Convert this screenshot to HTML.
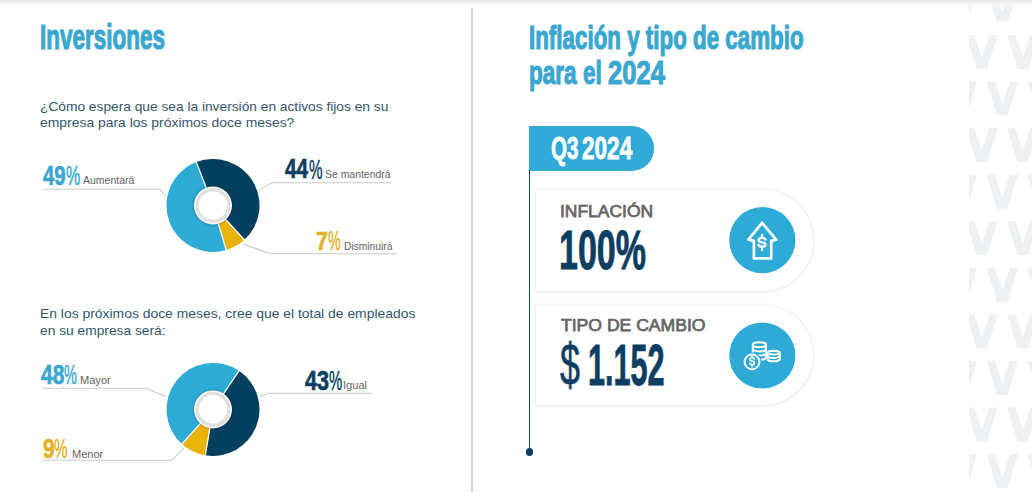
<!DOCTYPE html>
<html><head><meta charset="utf-8"><style>
html,body{margin:0;padding:0;}
body{width:1032px;height:492px;position:relative;overflow:hidden;background:#fff;font-family:"Liberation Sans",sans-serif;}
.t{position:absolute;white-space:nowrap;line-height:1;transform-origin:0 0;}
.top{position:absolute;left:0;top:0;width:1032px;height:9px;background:linear-gradient(#e6e6e6,#f6f6f6 45%,rgba(255,255,255,0));z-index:5}
.sep{position:absolute;left:471.3px;top:8px;width:1.6px;height:484px;background:#d3d3d3}
.pill{position:absolute;left:529.3px;top:126px;width:125.2px;height:44.6px;background:#31aad7;border-radius:0 22.3px 22.3px 0}
.tl{position:absolute;left:528.6px;top:170px;width:1.6px;height:282px;background:#173f5c}
.dot{position:absolute;left:525.7px;top:448.4px;width:7.2px;height:7.2px;border-radius:50%;background:#0d3f62}
.card{position:absolute;left:535.6px;width:277.4px;height:100.2px;background:#fff;border-radius:0 50.1px 50.1px 0;box-shadow:0 0.3px 2.6px 0.6px rgba(0,0,0,0.11)}
svg{position:absolute;left:0;top:0}
</style></head><body>
<div class="sep"></div>
<svg width="1032" height="492" viewBox="0 0 1032 492">
<defs><radialGradient id="rs"><stop offset="0.8" stop-color="#000" stop-opacity="0.18"/><stop offset="1" stop-color="#000" stop-opacity="0"/></radialGradient><clipPath id="vc"><rect x="969" y="0" width="63" height="492"/></clipPath></defs>
<g clip-path="url(#vc)"><path d="M945.55,-7.50 L953.75,-7.50 L961.30,11.26 L968.85,-7.50 L977.05,-7.50 L966.55,21.50 L956.05,21.50 Z" fill="#edf1f3"/><path d="M986.55,-7.50 L994.75,-7.50 L1002.30,11.26 L1009.85,-7.50 L1018.05,-7.50 L1007.55,21.50 L997.05,21.50 Z" fill="#edf1f3"/><path d="M1027.55,-7.50 L1035.75,-7.50 L1043.30,11.26 L1050.85,-7.50 L1059.05,-7.50 L1048.55,21.50 L1038.05,21.50 Z" fill="#edf1f3"/><path d="M1068.55,-7.50 L1076.75,-7.50 L1084.30,11.26 L1091.85,-7.50 L1100.05,-7.50 L1089.55,21.50 L1079.05,21.50 Z" fill="#edf1f3"/><path d="M925.05,35.00 L933.25,35.00 L940.80,57.00 L948.35,35.00 L956.55,35.00 L946.05,69.00 L935.55,69.00 Z" fill="#edf1f3"/><path d="M966.05,35.00 L974.25,35.00 L981.80,57.00 L989.35,35.00 L997.55,35.00 L987.05,69.00 L976.55,69.00 Z" fill="#edf1f3"/><path d="M1007.05,35.00 L1015.25,35.00 L1022.80,57.00 L1030.35,35.00 L1038.55,35.00 L1028.05,69.00 L1017.55,69.00 Z" fill="#edf1f3"/><path d="M1048.05,35.00 L1056.25,35.00 L1063.80,57.00 L1071.35,35.00 L1079.55,35.00 L1069.05,69.00 L1058.55,69.00 Z" fill="#edf1f3"/><path d="M945.55,81.57 L953.75,81.57 L961.30,103.57 L968.85,81.57 L977.05,81.57 L966.55,115.57 L956.05,115.57 Z" fill="#edf1f3"/><path d="M986.55,81.57 L994.75,81.57 L1002.30,103.57 L1009.85,81.57 L1018.05,81.57 L1007.55,115.57 L997.05,115.57 Z" fill="#edf1f3"/><path d="M1027.55,81.57 L1035.75,81.57 L1043.30,103.57 L1050.85,81.57 L1059.05,81.57 L1048.55,115.57 L1038.05,115.57 Z" fill="#edf1f3"/><path d="M1068.55,81.57 L1076.75,81.57 L1084.30,103.57 L1091.85,81.57 L1100.05,81.57 L1089.55,115.57 L1079.05,115.57 Z" fill="#edf1f3"/><path d="M925.05,128.14 L933.25,128.14 L940.80,150.14 L948.35,128.14 L956.55,128.14 L946.05,162.14 L935.55,162.14 Z" fill="#edf1f3"/><path d="M966.05,128.14 L974.25,128.14 L981.80,150.14 L989.35,128.14 L997.55,128.14 L987.05,162.14 L976.55,162.14 Z" fill="#edf1f3"/><path d="M1007.05,128.14 L1015.25,128.14 L1022.80,150.14 L1030.35,128.14 L1038.55,128.14 L1028.05,162.14 L1017.55,162.14 Z" fill="#edf1f3"/><path d="M1048.05,128.14 L1056.25,128.14 L1063.80,150.14 L1071.35,128.14 L1079.55,128.14 L1069.05,162.14 L1058.55,162.14 Z" fill="#edf1f3"/><path d="M945.55,174.71 L953.75,174.71 L961.30,196.71 L968.85,174.71 L977.05,174.71 L966.55,208.71 L956.05,208.71 Z" fill="#edf1f3"/><path d="M986.55,174.71 L994.75,174.71 L1002.30,196.71 L1009.85,174.71 L1018.05,174.71 L1007.55,208.71 L997.05,208.71 Z" fill="#edf1f3"/><path d="M1027.55,174.71 L1035.75,174.71 L1043.30,196.71 L1050.85,174.71 L1059.05,174.71 L1048.55,208.71 L1038.05,208.71 Z" fill="#edf1f3"/><path d="M1068.55,174.71 L1076.75,174.71 L1084.30,196.71 L1091.85,174.71 L1100.05,174.71 L1089.55,208.71 L1079.05,208.71 Z" fill="#edf1f3"/><path d="M925.05,221.28 L933.25,221.28 L940.80,243.28 L948.35,221.28 L956.55,221.28 L946.05,255.28 L935.55,255.28 Z" fill="#edf1f3"/><path d="M966.05,221.28 L974.25,221.28 L981.80,243.28 L989.35,221.28 L997.55,221.28 L987.05,255.28 L976.55,255.28 Z" fill="#edf1f3"/><path d="M1007.05,221.28 L1015.25,221.28 L1022.80,243.28 L1030.35,221.28 L1038.55,221.28 L1028.05,255.28 L1017.55,255.28 Z" fill="#edf1f3"/><path d="M1048.05,221.28 L1056.25,221.28 L1063.80,243.28 L1071.35,221.28 L1079.55,221.28 L1069.05,255.28 L1058.55,255.28 Z" fill="#edf1f3"/><path d="M945.55,267.85 L953.75,267.85 L961.30,289.85 L968.85,267.85 L977.05,267.85 L966.55,301.85 L956.05,301.85 Z" fill="#edf1f3"/><path d="M986.55,267.85 L994.75,267.85 L1002.30,289.85 L1009.85,267.85 L1018.05,267.85 L1007.55,301.85 L997.05,301.85 Z" fill="#edf1f3"/><path d="M1027.55,267.85 L1035.75,267.85 L1043.30,289.85 L1050.85,267.85 L1059.05,267.85 L1048.55,301.85 L1038.05,301.85 Z" fill="#edf1f3"/><path d="M1068.55,267.85 L1076.75,267.85 L1084.30,289.85 L1091.85,267.85 L1100.05,267.85 L1089.55,301.85 L1079.05,301.85 Z" fill="#edf1f3"/><path d="M925.05,314.42 L933.25,314.42 L940.80,336.42 L948.35,314.42 L956.55,314.42 L946.05,348.42 L935.55,348.42 Z" fill="#edf1f3"/><path d="M966.05,314.42 L974.25,314.42 L981.80,336.42 L989.35,314.42 L997.55,314.42 L987.05,348.42 L976.55,348.42 Z" fill="#edf1f3"/><path d="M1007.05,314.42 L1015.25,314.42 L1022.80,336.42 L1030.35,314.42 L1038.55,314.42 L1028.05,348.42 L1017.55,348.42 Z" fill="#edf1f3"/><path d="M1048.05,314.42 L1056.25,314.42 L1063.80,336.42 L1071.35,314.42 L1079.55,314.42 L1069.05,348.42 L1058.55,348.42 Z" fill="#edf1f3"/><path d="M945.55,360.99 L953.75,360.99 L961.30,382.99 L968.85,360.99 L977.05,360.99 L966.55,394.99 L956.05,394.99 Z" fill="#edf1f3"/><path d="M986.55,360.99 L994.75,360.99 L1002.30,382.99 L1009.85,360.99 L1018.05,360.99 L1007.55,394.99 L997.05,394.99 Z" fill="#edf1f3"/><path d="M1027.55,360.99 L1035.75,360.99 L1043.30,382.99 L1050.85,360.99 L1059.05,360.99 L1048.55,394.99 L1038.05,394.99 Z" fill="#edf1f3"/><path d="M1068.55,360.99 L1076.75,360.99 L1084.30,382.99 L1091.85,360.99 L1100.05,360.99 L1089.55,394.99 L1079.05,394.99 Z" fill="#edf1f3"/><path d="M925.05,407.56 L933.25,407.56 L940.80,429.56 L948.35,407.56 L956.55,407.56 L946.05,441.56 L935.55,441.56 Z" fill="#edf1f3"/><path d="M966.05,407.56 L974.25,407.56 L981.80,429.56 L989.35,407.56 L997.55,407.56 L987.05,441.56 L976.55,441.56 Z" fill="#edf1f3"/><path d="M1007.05,407.56 L1015.25,407.56 L1022.80,429.56 L1030.35,407.56 L1038.55,407.56 L1028.05,441.56 L1017.55,441.56 Z" fill="#edf1f3"/><path d="M1048.05,407.56 L1056.25,407.56 L1063.80,429.56 L1071.35,407.56 L1079.55,407.56 L1069.05,441.56 L1058.55,441.56 Z" fill="#edf1f3"/><path d="M945.55,454.13 L953.75,454.13 L961.30,476.13 L968.85,454.13 L977.05,454.13 L966.55,488.13 L956.05,488.13 Z" fill="#edf1f3"/><path d="M986.55,454.13 L994.75,454.13 L1002.30,476.13 L1009.85,454.13 L1018.05,454.13 L1007.55,488.13 L997.05,488.13 Z" fill="#edf1f3"/><path d="M1027.55,454.13 L1035.75,454.13 L1043.30,476.13 L1050.85,454.13 L1059.05,454.13 L1048.55,488.13 L1038.05,488.13 Z" fill="#edf1f3"/><path d="M1068.55,454.13 L1076.75,454.13 L1084.30,476.13 L1091.85,454.13 L1100.05,454.13 L1089.55,488.13 L1079.05,488.13 Z" fill="#edf1f3"/><path d="M925.05,500.70 L933.25,500.70 L940.80,522.70 L948.35,500.70 L956.55,500.70 L946.05,534.70 L935.55,534.70 Z" fill="#edf1f3"/><path d="M966.05,500.70 L974.25,500.70 L981.80,522.70 L989.35,500.70 L997.55,500.70 L987.05,534.70 L976.55,534.70 Z" fill="#edf1f3"/><path d="M1007.05,500.70 L1015.25,500.70 L1022.80,522.70 L1030.35,500.70 L1038.55,500.70 L1028.05,534.70 L1017.55,534.70 Z" fill="#edf1f3"/><path d="M1048.05,500.70 L1056.25,500.70 L1063.80,522.70 L1071.35,500.70 L1079.55,500.70 L1069.05,534.70 L1058.55,534.70 Z" fill="#edf1f3"/></g>
<path d="M213,205.5 L196.34,162.09 A46.5,46.5 0 0 1 244.36,239.84 Z" fill="#03405f"/><path d="M213,205.5 L244.36,239.84 A46.5,46.5 0 0 1 226.21,250.09 Z" fill="#e9b30a"/><path d="M213,205.5 L226.21,250.09 A46.5,46.5 0 0 1 196.34,162.09 Z" fill="#2eabd5"/><line x1="213" y1="205.5" x2="196.16" y2="161.62" stroke="#fff" stroke-width="1.3"/><line x1="213" y1="205.5" x2="244.69" y2="240.21" stroke="#fff" stroke-width="1.3"/><line x1="213" y1="205.5" x2="226.35" y2="250.56" stroke="#fff" stroke-width="1.3"/><circle cx="213" cy="205.5" r="22" fill="url(#rs)"/><circle cx="213" cy="205.5" r="19" fill="#f7f7f7"/><circle cx="213" cy="205.5" r="15.7" fill="none" stroke="#e0e0e0" stroke-width="3.2"/><circle cx="213" cy="205.5" r="14.1" fill="#fff"/><path d="M213,409.4 L239.00,370.85 A46.5,46.5 0 0 1 205.33,455.26 Z" fill="#03405f"/><path d="M213,409.4 L205.33,455.26 A46.5,46.5 0 0 1 181.89,443.96 Z" fill="#e9b30a"/><path d="M213,409.4 L181.89,443.96 A46.5,46.5 0 0 1 239.00,370.85 Z" fill="#2eabd5"/><line x1="213" y1="409.4" x2="239.28" y2="370.44" stroke="#fff" stroke-width="1.3"/><line x1="213" y1="409.4" x2="205.24" y2="455.76" stroke="#fff" stroke-width="1.3"/><line x1="213" y1="409.4" x2="181.55" y2="444.33" stroke="#fff" stroke-width="1.3"/><circle cx="213" cy="409.4" r="22" fill="url(#rs)"/><circle cx="213" cy="409.4" r="19" fill="#f7f7f7"/><circle cx="213" cy="409.4" r="15.7" fill="none" stroke="#e0e0e0" stroke-width="3.2"/><circle cx="213" cy="409.4" r="14.1" fill="#fff"/><polyline points="43.8,189.3 159.8,189.3 166,196.5" fill="none" stroke="#c9c9c9" stroke-width="1.1"/><polyline points="391.7,182.7 271.8,182.7 259,190.4" fill="none" stroke="#c9c9c9" stroke-width="1.1"/><polyline points="396.8,253.7 270.6,253.7 243,244" fill="none" stroke="#c9c9c9" stroke-width="1.1"/><polyline points="41.8,388.2 145.6,388.2 166,396.4" fill="none" stroke="#c9c9c9" stroke-width="1.1"/><polyline points="372.1,393.2 268.3,393.2 259.5,396.6" fill="none" stroke="#c9c9c9" stroke-width="1.1"/><polyline points="43,460.3 171.7,460.3 183.8,447.9" fill="none" stroke="#c9c9c9" stroke-width="1.1"/>
</svg>
<div class="pill"></div>
<div class="tl"></div>
<div class="dot"></div>
<div class="card" style="top:190.4px"></div>
<div class="card" style="top:305.2px"></div>
<svg width="1032" height="492" viewBox="0 0 1032 492">
<circle cx="762.35" cy="240.1" r="33.1" fill="#2eaad7"/>
<circle cx="762.3" cy="355.5" r="33.1" fill="#2eaad7"/>
<g fill="none" stroke="#fff" stroke-width="2.7" stroke-linejoin="round" stroke-linecap="round">
<path d="M762.1,222.8 L776.2,239.6 L771.2,240.9 L771.2,258.4 L753.9,258.4 L753.9,240.9 L748.4,239.6 Z"/>
<path d="M765.5,239.7 C765.1,238.5 763.7,237.9 762,237.9 C760.1,237.9 758.6,238.9 758.6,240.2 C758.6,241.6 760.1,242.1 762,242.3 C764,242.5 765.5,243.2 765.5,244.5 C765.5,245.9 764,246.7 762,246.7 C760.2,246.7 758.8,246 758.5,244.9" stroke-width="2.3"/>
<line x1="762" y1="235" x2="762" y2="237.6" stroke-width="2.3"/><line x1="762" y1="247" x2="762" y2="250" stroke-width="2.3"/>
</g>
<g fill="none" stroke="#fff" stroke-width="2" stroke-linejoin="round" stroke-linecap="round"><ellipse cx="773.7" cy="352.6" rx="6.0" ry="1.9"/><path d="M767.7,352.6 L767.7,359.40 M779.7,352.6 L779.7,359.40"/><path d="M767.7,356.00 A6.0,1.9 0 0 0 779.7,356.00"/><path d="M767.7,359.40 A6.0,1.9 0 0 0 779.7,359.40"/><ellipse cx="759.4" cy="344.7" rx="6.6" ry="2.5"/><path d="M752.8,344.7 L752.8,357.30 M766.0,344.7 L766.0,357.30"/><path d="M752.8,348.90 A6.6,2.5 0 0 0 766.0,348.90"/><path d="M752.8,353.10 A6.6,2.5 0 0 0 766.0,353.10"/><path d="M752.8,357.30 A6.6,2.5 0 0 0 766.0,357.30"/><circle cx="752" cy="361.9" r="9.6" fill="#2eaad7" stroke="none"/><circle cx="752" cy="361.9" r="7.4"/><path d="M754.4,358.9 C754,357.9 753.2,357.7 752.1,357.7 C750.9,357.7 749.9,358.3 749.9,359.4 C749.9,360.6 751,360.9 752.1,361.1 C753.4,361.3 754.5,361.8 754.5,363 C754.5,364.2 753.4,364.7 752.1,364.7 C750.9,364.7 750,364.2 749.8,363.4" stroke-width="1.6"/><line x1="752.1" y1="355.9" x2="752.1" y2="357.5" stroke-width="1.6"/><line x1="752.1" y1="364.9" x2="752.1" y2="366.6" stroke-width="1.6"/></g>
</svg>
<div class="t" style="left:39.78px;top:19.47px;font-size:35.22px;font-weight:bold;-webkit-text-stroke:1.2px #3aa7d1;color:#3aa7d1;transform:scaleX(0.6391)">Inversiones</div><div class="t" style="left:39.51px;top:100.25px;font-size:13.00px;font-weight:normal;color:#34566b;transform:scaleX(1.0570)">¿Cómo espera que sea la inversión en activos fijos en su</div><div class="t" style="left:39.77px;top:116.15px;font-size:13.00px;font-weight:normal;color:#34566b;transform:scaleX(1.0699)">empresa para los próximos doce meses?</div><div class="t" style="left:43.20px;top:161.99px;font-size:27.25px;font-weight:bold;-webkit-text-stroke:0.7px #3aa7d1;color:#3aa7d1;transform:scaleX(0.7462)">49</div><div class="t" style="left:66.26px;top:161.84px;font-size:27.54px;font-weight:normal;-webkit-text-stroke:0.5px #3aa7d1;color:#3aa7d1;transform:scaleX(0.5826)">%</div><div class="t" style="left:83.20px;top:176.46px;font-size:10.40px;font-weight:normal;color:#636363;transform:scaleX(1.0098)">Aumentará</div><div class="t" style="left:285.20px;top:155.96px;font-size:26.81px;font-weight:bold;-webkit-text-stroke:0.7px #0c3e62;color:#0c3e62;transform:scaleX(0.7733)">44</div><div class="t" style="left:308.88px;top:155.81px;font-size:27.10px;font-weight:normal;-webkit-text-stroke:0.5px #0c3e62;color:#0c3e62;transform:scaleX(0.5626)">%</div><div class="t" style="left:324.80px;top:170.16px;font-size:10.40px;font-weight:normal;color:#636363;transform:scaleX(1.0039)">Se mantendrá</div><div class="t" style="left:316.39px;top:228.08px;font-size:26.67px;font-weight:bold;-webkit-text-stroke:0.7px #e2b226;color:#e2b226;transform:scaleX(0.8075)">7</div><div class="t" style="left:327.90px;top:227.94px;font-size:26.96px;font-weight:normal;-webkit-text-stroke:0.5px #e2b226;color:#e2b226;transform:scaleX(0.5289)">%</div><div class="t" style="left:344.16px;top:241.86px;font-size:10.40px;font-weight:normal;color:#636363;transform:scaleX(0.9856)">Disminuirá</div><div class="t" style="left:39.73px;top:307.40px;font-size:13.00px;font-weight:normal;color:#34566b;transform:scaleX(1.0688)">En los próximos doce meses, cree que el total de empleados</div><div class="t" style="left:40.27px;top:323.95px;font-size:13.00px;font-weight:normal;color:#34566b;transform:scaleX(1.0595)">en su empresa será:</div><div class="t" style="left:40.60px;top:360.87px;font-size:27.39px;font-weight:bold;-webkit-text-stroke:0.7px #3aa7d1;color:#3aa7d1;transform:scaleX(0.7700)">48</div><div class="t" style="left:64.31px;top:360.72px;font-size:27.68px;font-weight:normal;-webkit-text-stroke:0.5px #3aa7d1;color:#3aa7d1;transform:scaleX(0.5247)">%</div><div class="t" style="left:79.70px;top:375.76px;font-size:10.40px;font-weight:normal;color:#636363;transform:scaleX(1.0643)">Mayor</div><div class="t" style="left:304.90px;top:367.01px;font-size:27.10px;font-weight:bold;-webkit-text-stroke:0.7px #0c3e62;color:#0c3e62;transform:scaleX(0.7966)">43</div><div class="t" style="left:328.59px;top:366.87px;font-size:27.39px;font-weight:normal;-webkit-text-stroke:0.5px #0c3e62;color:#0c3e62;transform:scaleX(0.5435)">%</div><div class="t" style="left:343.23px;top:381.46px;font-size:10.40px;font-weight:normal;color:#636363;transform:scaleX(1.0667)">Igual</div><div class="t" style="left:42.62px;top:434.67px;font-size:27.39px;font-weight:bold;-webkit-text-stroke:0.7px #e2b226;color:#e2b226;transform:scaleX(0.7643)">9</div><div class="t" style="left:53.89px;top:434.52px;font-size:27.68px;font-weight:normal;-webkit-text-stroke:0.5px #e2b226;color:#e2b226;transform:scaleX(0.5505)">%</div><div class="t" style="left:71.91px;top:449.56px;font-size:10.40px;font-weight:normal;color:#636363;transform:scaleX(1.0596)">Menor</div><div class="t" style="left:529.19px;top:20.99px;font-size:33.19px;font-weight:bold;-webkit-text-stroke:1.2px #3aa7d1;color:#3aa7d1;transform:scaleX(0.6742)">Inflación y tipo de cambio</div><div class="t" style="left:529.10px;top:56.27px;font-size:33.91px;font-weight:bold;-webkit-text-stroke:1.2px #3aa7d1;color:#3aa7d1;transform:scaleX(0.6651)">para el</div><div class="t" style="left:608.22px;top:56.17px;font-size:33.91px;font-weight:bold;-webkit-text-stroke:1.2px #3aa7d1;color:#3aa7d1;transform:scaleX(0.7535)">2024</div><div class="t" style="left:551.45px;top:132.50px;font-size:31.88px;font-weight:bold;-webkit-text-stroke:0.8px #ffffff;color:#ffffff;transform:scaleX(0.6454)">Q3</div><div class="t" style="left:582.47px;top:132.50px;font-size:31.88px;font-weight:bold;-webkit-text-stroke:0.8px #ffffff;color:#ffffff;transform:scaleX(0.7078)">2024</div><div class="t" style="left:559.84px;top:202.70px;font-size:17.32px;font-weight:normal;-webkit-text-stroke:0.75px #666666;color:#666666;transform:scaleX(1.0078)">INFLACIÓN</div><div class="t" style="left:559.29px;top:222.13px;font-size:56.38px;font-weight:bold;-webkit-text-stroke:0.9px #0c3e62;color:#0c3e62;transform:scaleX(0.6032)">100%</div><div class="t" style="left:560.60px;top:317.97px;font-size:16.88px;font-weight:normal;-webkit-text-stroke:0.75px #666666;color:#666666;transform:scaleX(1.0423)">TIPO DE CAMBIO</div><div class="t" style="left:560.45px;top:335.11px;font-size:59.40px;font-weight:normal;-webkit-text-stroke:0.6px #0c3e62;color:#0c3e62;transform:scaleX(0.6047)">$</div><div class="t" style="left:587.97px;top:336.57px;font-size:57.39px;font-weight:bold;-webkit-text-stroke:0.9px #0c3e62;color:#0c3e62;transform:scaleX(0.5336)">1.152</div>
<div class="top"></div>
</body></html>
